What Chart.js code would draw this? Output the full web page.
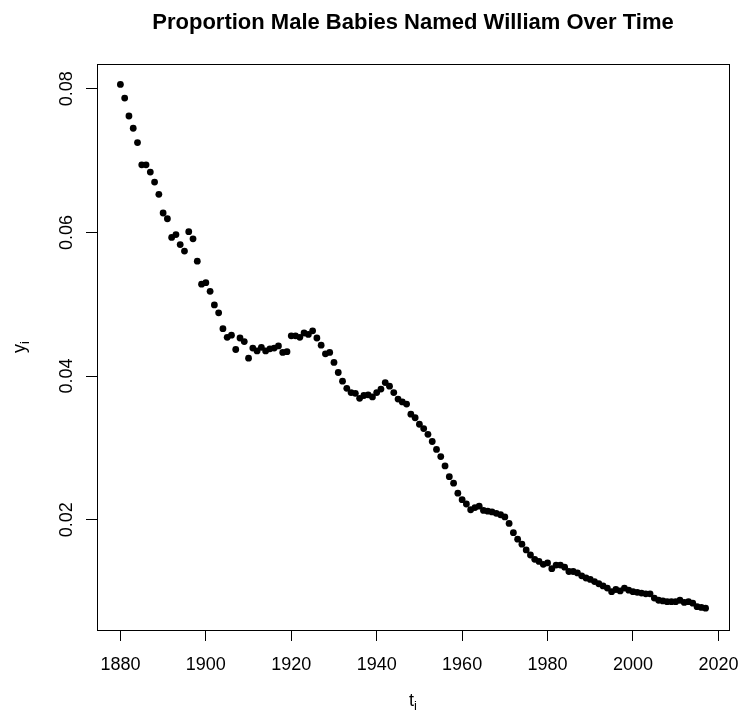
<!DOCTYPE html>
<html>
<head>
<meta charset="utf-8">
<script src="https://cdn.jsdelivr.net/npm/chart.js@4.4.1/dist/chart.umd.min.js"></script>
<style>
html, body { margin: 0; padding: 0; background: #fff; }
#wrap { width: 738px; height: 713px; }
</style>
</head>
<body>
<div id="wrap"><canvas id="chart" width="738" height="713"></canvas></div>
<script>
// ── Datos ──
const YEARS = [
    1880,1881,1882,1883,1884,1885,1886,1887,1888,1889,
    1890,1891,1892,1893,1894,1895,1896,1897,1898,1899,
    1900,1901,1902,1903,1904,1905,1906,1907,1908,1909,
    1910,1911,1912,1913,1914,1915,1916,1917,1918,1919,
    1920,1921,1922,1923,1924,1925,1926,1927,1928,1929,
    1930,1931,1932,1933,1934,1935,1936,1937,1938,1939,
    1940,1941,1942,1943,1944,1945,1946,1947,1948,1949,
    1950,1951,1952,1953,1954,1955,1956,1957,1958,1959,
    1960,1961,1962,1963,1964,1965,1966,1967,1968,1969,
    1970,1971,1972,1973,1974,1975,1976,1977,1978,1979,
    1980,1981,1982,1983,1984,1985,1986,1987,1988,1989,
    1990,1991,1992,1993,1994,1995,1996,1997,1998,1999,
    2000,2001,2002,2003,2004,2005,2006,2007,2008,2009,
    2010,2011,2012,2013,2014,2015,2016,2017
];
const PROPORTION = [
    0.0806,0.0787,0.0762,0.0745,0.0725,0.0694,0.0694,0.0684,0.0670,0.0653,
    0.0627,0.0619,0.0593,0.0597,0.0583,0.0574,0.0601,0.0591,0.0560,0.0528,
    0.0530,0.0518,0.0499,0.0488,0.0466,0.0454,0.0457,0.0437,0.0453,0.0448,
    0.0425,0.0439,0.0435,0.0440,0.0435,0.0438,0.0439,0.0442,0.0433,0.0434,
    0.0456,0.0456,0.0454,0.0460,0.0458,0.0463,0.0453,0.0443,0.0431,0.0433,
    0.0419,0.0405,0.0393,0.0383,0.0377,0.0376,0.0369,0.0373,0.0374,0.0371,
    0.0377,0.0382,0.0391,0.0386,0.0377,0.0368,0.0364,0.0361,0.0347,0.0342,
    0.0333,0.0327,0.0319,0.0309,0.0298,0.0288,0.0275,0.0260,0.0251,0.0237,
    0.0228,0.0222,0.0214,0.0217,0.0219,0.0213,0.0212,0.0211,0.0209,0.0207,
    0.0204,0.0195,0.0182,0.0173,0.0166,0.0158,0.0151,0.0145,0.0142,0.0138,
    0.0140,0.0132,0.0137,0.0137,0.0134,0.0128,0.0128,0.0126,0.0122,0.0119,
    0.0117,0.0114,0.0111,0.0108,0.0105,0.0100,0.0103,0.0101,0.0105,0.0102,
    0.0100,0.0099,0.0098,0.0097,0.0097,0.0091,0.0088,0.0087,0.0086,0.0086,
    0.0086,0.0088,0.0085,0.0086,0.0084,0.0079,0.0078,0.0077
];
const X_TICKS = [1880, 1900, 1920, 1940, 1960, 1980, 2000, 2020];
const Y_TICKS = [0.02, 0.04, 0.06, 0.08];
const X_LIMITS = [1874.52, 2022.48];
const Y_LIMITS = [0.00466, 0.08344];

const TITLE   = 'Proportion Male Babies Named William Over Time';
const X_TITLE = ['t', 'i'];
const Y_TITLE = ['y', 'i'];

const FONT = '"Liberation Sans", Arial, Helvetica, sans-serif';

// ── Texto con subíndice, centrado en (0, 0) del sistema local ──
function drawSub(ctx, main, sub, size) {
    ctx.font = `${size}px ${FONT}`;
    const w1 = ctx.measureText(main).width;
    ctx.font = `${Math.round(size * 0.72)}px ${FONT}`;
    const w2 = ctx.measureText(sub).width;
    const x0 = -(w1 + w2) / 2;
    ctx.textAlign = 'left';
    ctx.font = `${size}px ${FONT}`;
    ctx.fillText(main, x0, 0);
    ctx.font = `${Math.round(size * 0.72)}px ${FONT}`;
    ctx.fillText(sub, x0 + w1, 4);
}

// ── Caja, etiquetas y títulos al estilo R ──
const rText = {
    id: 'rText',
    afterDraw(chart) {
        const { ctx, chartArea: a, scales: { x, y } } = chart;
        ctx.save();
        ctx.fillStyle = '#000';
        ctx.strokeStyle = '#000';
        ctx.lineWidth = 1;
        ctx.strokeRect(Math.round(a.left) + 0.5, Math.round(a.top) + 0.5,
                       Math.round(a.right - a.left), Math.round(a.bottom - a.top));

        // título
        ctx.font = `bold 22px ${FONT}`;
        ctx.textAlign = 'center';
        ctx.textBaseline = 'alphabetic';
        ctx.fillText(TITLE, (a.left + a.right) / 2, 29);

        // etiquetas eje x
        ctx.font = `18px ${FONT}`;
        X_TICKS.forEach(v => ctx.fillText(String(v), x.getPixelForValue(v), 670));

        // etiquetas eje y (rotadas)
        Y_TICKS.forEach(v => {
            ctx.save();
            ctx.translate(72, y.getPixelForValue(v));
            ctx.rotate(-Math.PI / 2);
            ctx.textAlign = 'center';
            ctx.font = `18px ${FONT}`;
            ctx.fillText(v.toFixed(2), 0, 0);
            ctx.restore();
        });

        // títulos de ejes
        ctx.save();
        ctx.translate((a.left + a.right) / 2, 706);
        drawSub(ctx, X_TITLE[0], X_TITLE[1], 18);
        ctx.restore();

        ctx.save();
        ctx.translate(25, (a.top + a.bottom) / 2);
        ctx.rotate(-Math.PI / 2);
        drawSub(ctx, Y_TITLE[0], Y_TITLE[1], 18);
        ctx.restore();

        ctx.restore();
    }
};

const tickAxis = (ticks) => ({
    border: { display: false },
    grid: { drawOnChartArea: false, drawTicks: true, tickLength: 11, color: '#000', lineWidth: 1 },
    ticks: { display: false },
    afterBuildTicks: s => { s.ticks = ticks.map(v => ({ value: v })); }
});

new Chart(document.getElementById('chart'), {
    type: 'scatter',
    data: {
        datasets: [{
            data: YEARS.map((t, i) => ({ x: t, y: PROPORTION[i] })),
            backgroundColor: '#000',
            borderWidth: 0,
            pointRadius: 3.4,
            pointHoverRadius: 3.4
        }]
    },
    options: {
        responsive: false,
        animation: false,
        events: [],
        layout: { padding: { left: 0, right: 9, top: 64, bottom: 0 } },
        plugins: { legend: { display: false }, tooltip: { enabled: false } },
        scales: {
            x: {
                type: 'linear', min: X_LIMITS[0], max: X_LIMITS[1],
                ...tickAxis(X_TICKS),
                afterFit: s => { s.height = 83; }
            },
            y: {
                type: 'linear', min: Y_LIMITS[0], max: Y_LIMITS[1],
                ...tickAxis(Y_TICKS),
                afterFit: s => { s.width = 97; }
            }
        }
    },
    plugins: [rText]
});
</script>
</body>
</html>
